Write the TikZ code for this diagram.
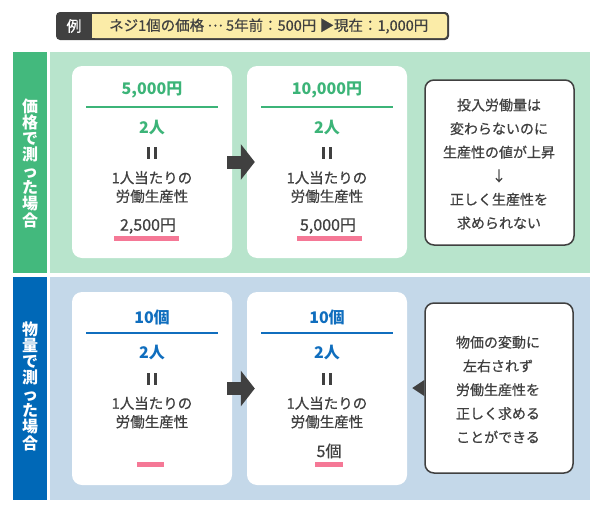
\documentclass[tikz,border=0pt]{standalone}
\usepackage{fontspec}
\setmainfont{Noto Sans CJK JP}
\newfontfamily\medfont{Noto Sans CJK JP}[FakeBold=0.6]
\usetikzlibrary{arrows.meta,calc}
\definecolor{gbar}{RGB}{67,185,125}
\definecolor{gbg}{RGB}{184,228,204}
\definecolor{gtext}{RGB}{60,180,120}
\definecolor{bbar}{RGB}{0,104,183}
\definecolor{bbg}{RGB}{196,216,233}
\definecolor{btext}{RGB}{16,110,190}
\definecolor{pinkline}{RGB}{245,120,150}
\definecolor{darkg}{RGB}{64,64,64}
\definecolor{hyellow}{RGB}{251,236,168}
\begin{document}
\begin{tikzpicture}[x=1pt,y=-1pt,
  every node/.style={inner sep=0pt, text=darkg},
  body/.style={font=\medfont\fontsize{14.5}{18.5}\selectfont, align=center},
  headg/.style={font=\fontsize{16}{18}\selectfont\bfseries, text=gtext},
  headb/.style={font=\fontsize{16}{18}\selectfont\bfseries, text=btext},
  result/.style={font=\medfont\fontsize{16}{18}\selectfont},
  eqbar/.style={fill=darkg},
  vlabel/.style={font=\fontsize{16}{16.3}\selectfont\bfseries, text=white, align=center},
  card/.style={fill=white, rounded corners=10pt, minimum width=160pt, minimum height=192pt},
  note/.style={fill=white, draw=darkg, line width=1.5pt, rounded corners=9pt},
  notetext/.style={font=\medfont\fontsize{14}{23.6}\selectfont, align=center},
  bigarrow/.style={draw=darkg, line width=13pt, -{Triangle[width=35pt,length=14pt]}},
  underline/.style={fill=pinkline},
]
\useasboundingbox (0,0) rectangle (600,514);
\fill[white] (0,0) rectangle (600,514);

% header
\fill[darkg, rounded corners=4pt] (56,12) rectangle (449,40);
\fill[hyellow, rounded corners=3pt] (92,14) rectangle (447,38);
\fill[hyellow] (92,14) rectangle (97,38);
\node[text=white, font=\medfont\fontsize{15}{18}\selectfont] (rei) at (74,26) {例};
\node[body, font=\medfont\fontsize{14.5}{18}\selectfont, anchor=west] (example) at (109,26) {ネジ1個の価格 \raisebox{0.3em}{…} 5年前：500円 ▶現在：1,000円};

% green band
\fill[gbar] (13,52) rectangle (47,273);
\fill[gbg] (50,52) rectangle (590,273);
\node[vlabel] (glabel) at (30,163) {価\\格\\で\\測\\っ\\た\\場\\合};

% blue band
\fill[bbar] (13,277) rectangle (47,500);
\fill[bbg] (50,277) rectangle (590,500);
\node[vlabel] (blabel) at (30,386) {物\\量\\で\\測\\っ\\た\\場\\合};

% green cards
\node[card] (g1) at (152,162) {};
\node[card] (g2) at (327,162) {};
\node[note, minimum width=149pt, minimum height=165pt] (gn) at (499.5,162.5) {};

\node[headg] (g1top) at (152,90) {5,000円};
\draw[gtext, line width=2pt] (86,107) -- (218,107);
\node[headg] (g1bot) at (152,128) {2人};
\fill[eqbar] (146.5,147) rectangle (150,159);
\fill[eqbar] (153.5,147) rectangle (157,159);
\node[body] (g1lab) at (152,187) {1人当たりの\\労働生産性};
\node[result] (g1res) at (148,226) {2,500円};
\fill[underline] (114,236) rectangle (179,241);

\node[headg] (g2top) at (327,90) {10,000円};
\draw[gtext, line width=2pt] (261,107) -- (393,107);
\node[headg] (g2bot) at (327,128) {2人};
\fill[eqbar] (321.5,147) rectangle (325,159);
\fill[eqbar] (328.5,147) rectangle (332,159);
\node[body] (g2lab) at (327,187) {1人当たりの\\労働生産性};
\node[result] (g2res) at (328,226) {5,000円};
\fill[underline] (297,236) rectangle (362,241);

\node[notetext] (gntext) at (499,164) {投入労働量は\\変わらないのに\\生産性の値が上昇\\↓\\正しく生産性を\\求められない};

\draw[bigarrow] ($(g1.east)+(-5,0)$) -- ($(g2.west)+(8,0)$);

% blue cards
\node[card, minimum height=193pt] (b1) at (152,388.5) {};
\node[card, minimum height=193pt] (b2) at (327,388.5) {};
\node[note, minimum width=148pt, minimum height=170pt] (bn) at (499,388) {};

\node[headb] (b1top) at (152,317) {10個};
\draw[btext, line width=2pt] (86,333) -- (218,333);
\node[headb] (b1bot) at (152,353) {2人};
\fill[eqbar] (146.5,373) rectangle (150,385);
\fill[eqbar] (153.5,373) rectangle (157,385);
\node[body] (b1lab) at (152,412.5) {1人当たりの\\労働生産性};
\fill[underline] (137,462) rectangle (164,467);

\node[headb] (b2top) at (327,317) {10個};
\draw[btext, line width=2pt] (261,333) -- (393,333);
\node[headb] (b2bot) at (327,353) {2人};
\fill[eqbar] (321.5,373) rectangle (325,385);
\fill[eqbar] (328.5,373) rectangle (332,385);
\node[body] (b2lab) at (327,412.5) {1人当たりの\\労働生産性};
\node[result] (b2res) at (329,451) {5個};
\fill[underline] (315,462) rectangle (343,467);

\node[notetext, font=\medfont\fontsize{14}{23.75}\selectfont] (bntext) at (498,389.5) {物価の変動に\\左右されず\\労働生産性を\\正しく求める\\ことができる};

\draw[bigarrow] ($(b1.east)+(-5,0)$) -- ($(b2.west)+(8,0)$);
\fill[darkg] ($(bn.west)+(0,-8)$) -- ($(bn.west)+(-12,0)$) -- ($(bn.west)+(0,8)$) -- cycle;
\end{tikzpicture}
\end{document}
